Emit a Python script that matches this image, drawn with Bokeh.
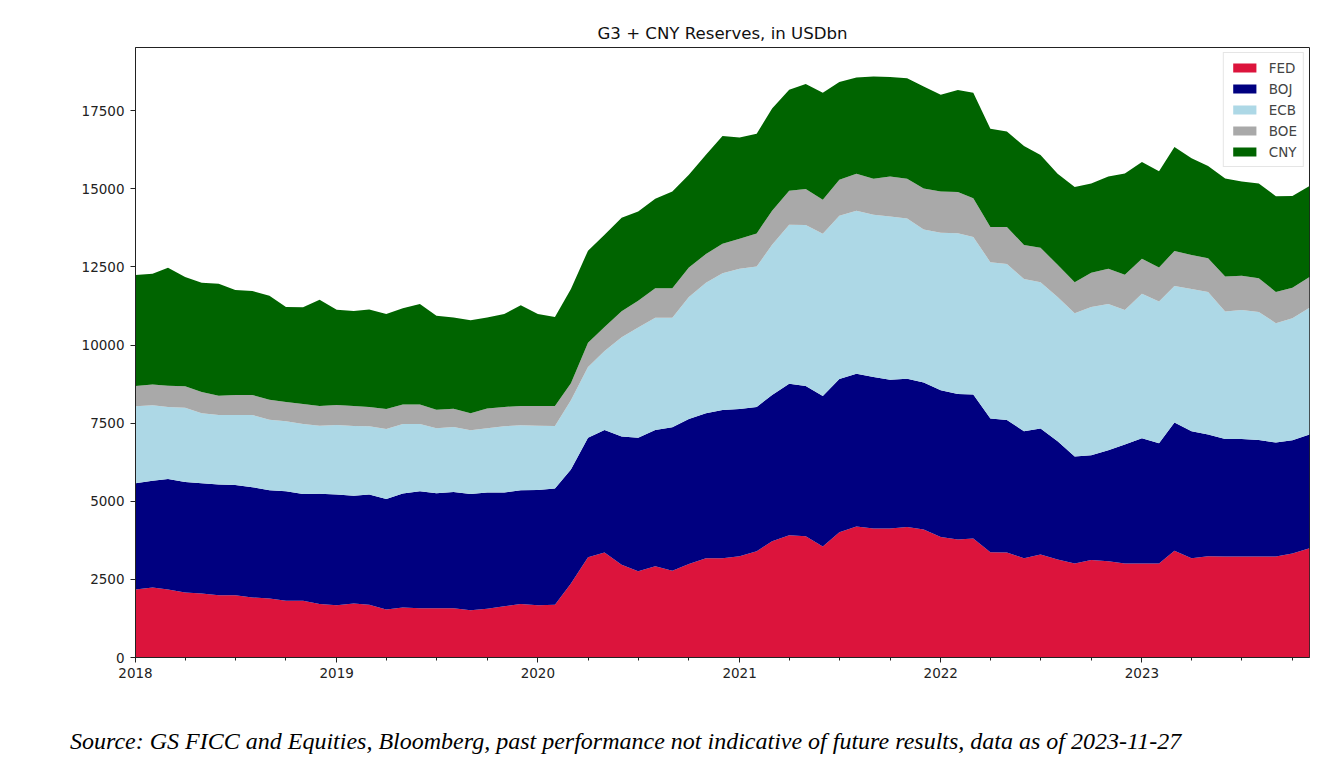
import pandas as pd
from bokeh.plotting import figure
from bokeh.layouts import column
from bokeh.models import (ColumnDataSource, Range1d, FixedTicker, SingleIntervalTicker,
                          DatetimeTickFormatter, Div)
from bokeh.embed import file_html
from bokeh.resources import INLINE

# ---- data (USDbn), monthly 2018-01 .. 2023-11 ----
dates = pd.date_range("2018-01-01", periods=71, freq="MS")

FED = [2180, 2240, 2180, 2080, 2050, 1990, 1990, 1920, 1890, 1820, 1820, 1710,
       1670, 1730, 1690, 1540, 1600, 1580, 1580, 1580, 1510, 1560, 1640, 1710,
       1670, 1690, 2370, 3210, 3360, 2970, 2760, 2920, 2780, 2990, 3180, 3180,
       3240, 3400, 3720, 3910, 3880, 3550, 4010, 4190, 4130, 4130, 4180, 4100,
       3860, 3780, 3810, 3370, 3360, 3180, 3300, 3140, 3010, 3120, 3080, 3010,
       3010, 3010, 3420, 3180, 3240, 3230, 3230, 3230, 3230, 3330, 3500]
BOJ = [3400, 3420, 3530, 3540, 3530, 3550, 3530, 3530, 3460, 3500, 3410, 3530,
       3550, 3450, 3530, 3530, 3650, 3740, 3680, 3720, 3720, 3720, 3640, 3640,
       3690, 3720, 3650, 3820, 3920, 4100, 4270, 4360, 4590, 4640, 4640, 4740,
       4710, 4620, 4680, 4850, 4810, 4820, 4900, 4890, 4850, 4760, 4740, 4700,
       4690, 4650, 4610, 4280, 4240, 4060, 4030, 3780, 3420, 3350, 3550, 3810,
       4010, 3850, 4100, 4060, 3900, 3760, 3760, 3730, 3650, 3620, 3640]
ECB = [2460, 2410, 2310, 2370, 2240, 2220, 2240, 2310, 2260, 2240, 2240, 2180,
       2220, 2230, 2180, 2240, 2220, 2150, 2080, 2080, 2040, 2060, 2120, 2080,
       2060, 2000, 2210, 2270, 2530, 3180, 3530, 3590, 3500, 3910, 4170, 4380,
       4490, 4490, 4810, 5090, 5150, 5190, 5230, 5220, 5190, 5220, 5130, 4900,
       5040, 5150, 5040, 5000, 4990, 4870, 4680, 4620, 4590, 4750, 4680, 4300,
       4620, 4530, 4370, 4550, 4560, 4080, 4130, 4100, 3820, 3910, 4050]
BOE = [650, 670, 680, 690, 680, 620, 640, 640, 640, 620, 640, 630,
       640, 640, 620, 640, 630, 630, 590, 580, 550, 630, 620, 620,
       630, 640, 550, 770, 770, 830, 860, 950, 950, 940, 920, 940,
       960, 1060, 1090, 1090, 1150, 1090, 1150, 1180, 1150, 1280, 1270, 1310,
       1320, 1320, 1240, 1130, 1190, 1090, 1100, 1030, 990, 1090, 1130, 1130,
       1120, 1090, 1120, 1090, 1080, 1120, 1100, 1080, 1000, 970, 990]
CNY = [3550, 3540, 3770, 3500, 3490, 3580, 3360, 3330, 3330, 3040, 3100, 3400,
       3050, 3040, 3120, 3040, 3080, 3210, 3010, 2920, 2970, 2910, 2970, 3220,
       2940, 2850, 3010, 2950, 2950, 2990, 2850, 2860, 3090, 2970, 3180, 3450,
       3240, 3190, 3270, 3230, 3360, 3420, 3130, 3080, 3270, 3190, 3220, 3260,
       3100, 3260, 3370, 3140, 3050, 3170, 2970, 2910, 3050, 2860, 2950, 3240,
       3100, 3080, 3330, 3100, 2950, 3140, 3010, 3030, 3060, 2940, 2910]

series_names = ["FED", "BOJ", "ECB", "BOE", "CNY"]
colors = ["#dc143c", "#000080", "#add8e6", "#a9a9a9", "#006400"]
source_note = ("Source: GS FICC and Equities, Bloomberg, past performance not indicative "
               "of future results, data as of 2023-11-27")

source = ColumnDataSource(data=dict(date=dates, FED=FED, BOJ=BOJ, ECB=ECB, BOE=BOE, CNY=CNY))

p = figure(width=1320, height=690, x_axis_type="datetime",
           output_backend="svg", toolbar_location=None,
           min_border_left=135, min_border_right=11, min_border_top=47, min_border_bottom=33,
           title="G3 + CNY Reserves, in USDbn")

p.x_range = Range1d(dates[0], dates[-1])
p.y_range = Range1d(0, 19520)

p.varea_stack(stackers=series_names, x="date", color=colors, source=source,
              legend_label=series_names)

# title
p.title.align = "center"
p.title.text_font = "DejaVu Sans"
p.title.text_font_size = "16.6px"
p.title.text_font_style = "normal"
p.title.text_color = "#111111"
p.title.standoff = 9

# axes
years = pd.date_range("2018-01-01", "2023-01-01", freq="YS")
quarters = pd.date_range("2018-01-01", "2023-11-01", freq="QS")
p.xaxis.ticker = FixedTicker(ticks=[t.timestamp() * 1000 for t in years],
                             minor_ticks=[t.timestamp() * 1000 for t in quarters])
fmt = "%Y"
p.xaxis.formatter = DatetimeTickFormatter(years=fmt, months=fmt, days=fmt, hours=fmt,
                                          minutes=fmt, seconds=fmt, milliseconds=fmt,
                                          microseconds=fmt, hourmin=fmt, minsec=fmt)
p.yaxis.ticker = SingleIntervalTicker(interval=2500, num_minor_ticks=0)

for ax in (p.xaxis, p.yaxis):
    ax.major_label_text_font = "DejaVu Sans"
    ax.major_label_text_font_size = "13.5px"
    ax.major_label_text_color = "#222222"
    ax.axis_line_color = "#222222"
    ax.major_tick_line_color = "#222222"
    ax.minor_tick_line_color = "#222222"
    ax.major_tick_out = 5
    ax.major_tick_in = 0
    ax.minor_tick_out = 3
    ax.minor_tick_in = 0
p.yaxis.major_label_standoff = 6
p.xaxis.major_label_standoff = 5
p.yaxis.minor_tick_line_color = None

p.xgrid.grid_line_color = None
p.ygrid.grid_line_color = None
p.outline_line_color = "#222222"
p.outline_line_width = 1
p.background_fill_color = "white"
p.border_fill_color = "white"

# legend
lg = p.legend[0]
lg.location = "top_right"
lg.label_text_font = "DejaVu Sans"
lg.label_text_font_size = "13.5px"
lg.glyph_width = 29
lg.glyph_height = 11
lg.label_height = 17
lg.label_standoff = 10
lg.spacing = 4
lg.padding = 6
lg.margin = 5
lg.border_line_color = "#cccccc"
lg.background_fill_alpha = 0.85

# source note below the chart
note = Div(text=source_note, width=1320, height=70,
           styles={"padding-left": "65px", "padding-top": "34px",
                   "font-family": "'Liberation Serif'", "font-style": "italic",
                   "font-size": "24px", "line-height": "24px", "white-space": "nowrap",
                   "color": "black"})

layout = column(p, note, spacing=0)
open("out.html", "w").write(file_html(layout, INLINE))
